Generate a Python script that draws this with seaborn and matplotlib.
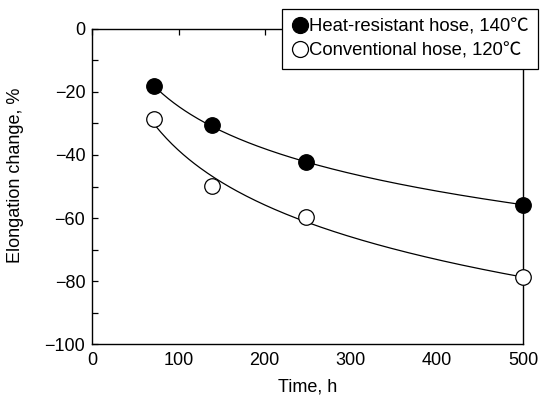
import numpy as np
import pandas as pd
import matplotlib
matplotlib.use('Agg')
import matplotlib.pyplot as plt
from matplotlib.lines import Line2D
from matplotlib.ticker import MultipleLocator
import seaborn as sns

# values
hours = [71, 139, 248, 500]
heat_resistant = [-18.2, -30.6, -42.2, -55.9]
conventional = [-28.5, -49.9, -59.5, -78.7]
series_names = ['Heat-resistant hose, 140\u2103', 'Conventional hose, 120\u2103']
face_colors = ['black', 'white']

x_ticks = [0, 100, 200, 300, 400, 500]
y_ticks = [0, -20, -40, -60, -80, -100]


def build_frames():
    points = pd.concat([
        pd.DataFrame({'time': hours, 'elongation': heat_resistant, 'series': series_names[0]}),
        pd.DataFrame({'time': hours, 'elongation': conventional, 'series': series_names[1]}),
    ], ignore_index=True)

    # logarithmic trend line fitted through each series
    curves = []
    for name in series_names:
        sub = points[points['series'] == name]
        slope, intercept = np.polyfit(np.log(sub['time']), sub['elongation'], 1)
        t = np.linspace(sub['time'].min(), sub['time'].max(), 200)
        curves.append(pd.DataFrame({'time': t, 'elongation': intercept + slope * np.log(t), 'series': name}))
    return points, pd.concat(curves, ignore_index=True)


def main():
    sns.set_style('ticks')
    plt.rcParams['font.family'] = ['Liberation Sans', 'Noto Sans CJK JP', 'DejaVu Sans']
    plt.rcParams.update({'text.color': 'black', 'axes.labelcolor': 'black',
                         'xtick.color': 'black', 'ytick.color': 'black'})

    points, curves = build_frames()

    fig = plt.figure(figsize=(5.43, 3.98), dpi=100)
    ax = fig.add_axes([0.170, 0.1347, 0.7937, 0.7932])

    sns.lineplot(data=curves, x='time', y='elongation', units='series', estimator=None,
                 color='black', linewidth=0.9, ax=ax, legend=False)
    for name, fc in zip(series_names, face_colors):
        sns.scatterplot(data=points[points['series'] == name], x='time', y='elongation',
                        s=125, color=fc, edgecolor='black', linewidth=0.9,
                        ax=ax, legend=False, zorder=3, clip_on=False)

    ax.set_xlim(0, 500)
    ax.set_ylim(-100, 0)
    ax.set_xticks(x_ticks)
    ax.set_yticks(y_ticks)
    ax.yaxis.set_minor_locator(MultipleLocator(10))
    ax.tick_params(axis='x', which='major', bottom=False, top=True, labelbottom=True,
                   direction='in', length=4.5, width=0.9, pad=5.5, labelsize=13)
    ax.tick_params(axis='y', which='both', left=True, right=False, direction='in',
                   length=4.5, width=0.9, pad=5, labelsize=13)
    for sp in ax.spines.values():
        sp.set_linewidth(1.0)
        sp.set_color('black')

    ax.set_xlabel('Time, h', fontsize=13, labelpad=7)
    ax.set_ylabel('Elongation change, %', fontsize=13)
    ax.yaxis.set_label_coords(-0.158, 0.536)

    handles = [Line2D([], [], linestyle='none', marker='o', markersize=11.5,
                      markerfacecolor=fc, markeredgecolor='black', markeredgewidth=0.9)
               for fc in face_colors]
    leg = fig.legend(handles, series_names, loc='upper right', bbox_to_anchor=(0.990, 0.977),
                     bbox_transform=fig.transFigure, borderaxespad=0, fancybox=False,
                     framealpha=1, edgecolor='black', fontsize=13.3, borderpad=0.5,
                     labelspacing=0.38, handlelength=0.95, handletextpad=0.0)
    leg.get_frame().set_linewidth(0.9)

    fig.savefig('out.png', dpi=100)
    plt.close(fig)


if __name__ == '__main__':
    main()
